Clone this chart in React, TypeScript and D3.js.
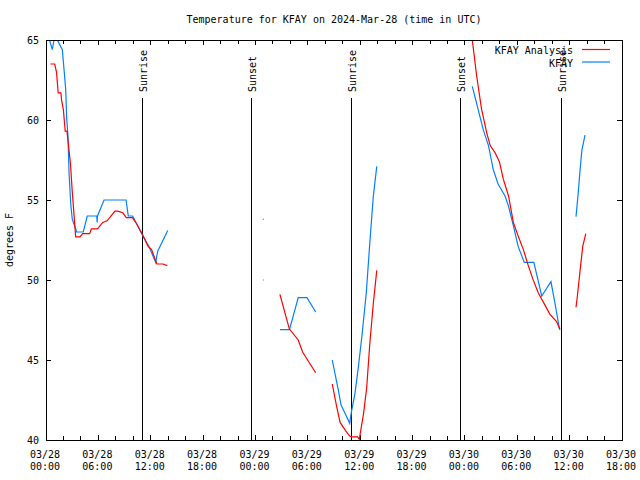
import * as d3 from "d3";
import React from "react";

// hours after 2024-03-28 00:00 UTC, temperature in degrees F
type pt = [number, number];

const analysisSegments: pt[][] = [
  [
    [0.5, 63.5], [1.0, 63.5], [1.2, 63.0], [1.4, 61.7], [1.7, 61.7], [1.8, 61.2],
    [2.0, 60.6], [2.2, 59.3], [2.4, 59.3], [2.8, 57.3], [3.0, 55.6], [3.4, 52.7],
    [3.9, 52.7], [4.2, 52.9], [5.0, 52.9], [5.2, 53.2], [5.9, 53.2], [6.5, 53.6],
    [7.0, 53.7], [7.3, 53.9], [7.9, 54.3], [8.2, 54.3], [8.8, 54.2], [9.2, 53.9],
    [9.9, 53.9], [10.4, 53.5], [11.1, 52.8], [11.7, 52.1], [12.1, 51.9], [12.7, 51.0],
    [13.4, 51.0], [13.9, 50.9],
  ],
  [[24.9, 53.8]],
  [[26.8, 49.1], [27.88, 46.95], [28.9, 46.25], [29.4, 45.5], [30.9, 44.2]],
  [
    [32.8, 43.5], [33.3, 42.1], [33.7, 41.1], [34.3, 40.6], [34.8, 40.25], [35.0, 40.2],
    [35.7, 40.2], [35.9, 40.05], [36.4, 41.7], [36.75, 43.3], [37.1, 46.0], [37.5, 48.5],
    [37.9, 50.6],
  ],
  [
    [48.8, 65.2], [49.35, 62.75], [49.9, 60.7], [50.5, 59.2], [50.9, 58.4], [51.45, 57.96],
    [51.95, 57.4], [52.4, 56.3], [53.0, 55.25], [53.55, 53.6], [54.1, 52.75], [54.7, 51.9],
    [55.26, 50.9], [55.8, 50.04], [56.4, 49.2], [57.0, 48.6], [57.75, 47.85], [58.5, 47.4],
    [58.9, 46.9],
  ],
  [[60.73, 48.3], [60.9, 49.06], [61.2, 50.6], [61.5, 52.1], [61.85, 52.9]],
];

const observedSegments: pt[][] = [
  [
    [0.4, 65.0], [0.72, 64.4], [0.92, 65.0], [1.3, 65.0], [1.87, 64.4], [2.06, 63.2],
    [2.26, 61.9], [2.37, 60.1], [2.52, 59.0], [2.64, 56.7], [2.83, 54.8], [3.01, 53.8],
    [3.4, 53.2], [3.5, 53.0], [4.27, 53.0], [4.73, 54.0], [5.81, 54.0], [5.86, 53.6],
    [5.9, 54.0], [6.65, 55.0], [9.17, 55.0], [9.43, 54.0], [9.93, 54.0], [11.15, 52.7],
    [11.8, 52.1], [12.57, 51.1], [12.8, 51.8], [13.95, 53.1],
  ],
  [[24.9, 50.0]],
  [[26.8, 46.9], [27.9, 46.9], [28.9, 48.9], [29.9, 48.9], [30.9, 48.0]],
  [
    [32.8, 45.0], [33.5, 43.1], [33.8, 42.2], [34.26, 41.67], [34.8, 41.04], [35.0, 41.77],
    [35.4, 42.9], [35.8, 44.6], [36.2, 46.5], [36.7, 49.2], [37.1, 52.3], [37.5, 55.2],
    [37.9, 57.1],
  ],
  [
    [48.85, 62.1], [49.5, 60.7], [50.1, 59.4], [50.7, 58.4], [51.25, 56.9], [51.8, 56.0],
    [52.6, 55.25], [53.0, 54.6], [53.55, 53.4], [54.1, 52.1], [54.8, 51.1], [55.9, 51.1],
    [56.8, 49.0], [57.86, 49.9], [58.3, 48.6], [58.85, 46.9],
  ],
  [[60.73, 53.96], [60.96, 55.3], [61.2, 56.9], [61.4, 58.1], [61.76, 59.06]],
];

const sunEvents: { label: string; hour: number }[] = [
  { label: "Sunrise", hour: 11.1 },
  { label: "Sunset", hour: 23.55 },
  { label: "Sunrise", hour: 35.05 },
  { label: "Sunset", hour: 47.5 },
  { label: "Sunrise", hour: 59.05 },
];

const yTicks = [40, 45, 50, 55, 60, 65];
const legendItems = [
  { name: "KFAY Analysis", color: "#ff0000" },
  { name: "KFAY", color: "#0080ff" },
];

const base = Date.UTC(2024, 2, 28, 0, 0);
const toDate = (h: number) => new Date(base + h * 3600e3);

const W = 640, H = 480;
const left = 46, right = 622, top = 40, bottom = 440;
const font = "'DejaVu Sans Mono', monospace";

export default function App() {
  const x = d3.scaleUtc().domain([toDate(0), toDate(66)]).range([left, right]);
  const y = d3.scaleLinear().domain([40, 65]).range([bottom, top]);

  const majorX = d3.utcHour.every(6)!.range(toDate(0), toDate(66.01));
  const minorX = d3.utcHour.every(2)!.range(toDate(0), toDate(66.01));
  const fmtDay = d3.utcFormat("%m/%d");
  const fmtTime = d3.utcFormat("%H:%M");

  const line = d3.line<pt>()
    .x((d) => x(toDate(d[0])))
    .y((d) => y(d[1]));

  const drawSeries = (segs: pt[][], color: string) =>
    segs.map((seg, i) =>
      seg.length > 1 ? (
        <path key={i} d={line(seg) || ""} fill="none" stroke={color} strokeWidth={1.2} />
      ) : (
        <rect key={i} x={x(toDate(seg[0][0])) - 0.5} y={y(seg[0][1]) - 0.5} width={1} height={1} fill={color} />
      )
    );

  return (
    <svg width={W} height={H} style={{ position: "absolute", left: 0, top: 0, background: "#fff" }}
      fontFamily={font} fontSize={10}>
      <defs>
        <clipPath id="plot">
          <rect x={left} y={top} width={right - left} height={bottom - top} />
        </clipPath>
      </defs>
      <text x={(left + right) / 2} y={23} textAnchor="middle">
        Temperature for KFAY on 2024-Mar-28 (time in UTC)
      </text>
      <text transform={`translate(13,${(top + bottom) / 2}) rotate(-90)`} textAnchor="middle">degrees F</text>

      {/* ticks */}
      <g stroke="#000" shapeRendering="crispEdges">
        {minorX.map((t, i) => (
          <g key={"mx" + i}>
            <line x1={x(t)} x2={x(t)} y1={bottom} y2={bottom - 4} />
            <line x1={x(t)} x2={x(t)} y1={top} y2={top + 4} />
          </g>
        ))}
        {majorX.map((t, i) => (
          <g key={"Mx" + i}>
            <line x1={x(t)} x2={x(t)} y1={bottom} y2={bottom - 5} />
            <line x1={x(t)} x2={x(t)} y1={top} y2={top + 5} />
          </g>
        ))}
        {yTicks.map((v) => (
          <g key={"y" + v}>
            <line x1={left} x2={left + 5} y1={y(v)} y2={y(v)} />
            <line x1={right} x2={right - 5} y1={y(v)} y2={y(v)} />
          </g>
        ))}
      </g>
      {majorX.map((t, i) => (
        <g key={"xl" + i}>
          <text x={x(t) - 1} y={458} textAnchor="middle">{fmtDay(t)}</text>
          <text x={x(t) - 1} y={470} textAnchor="middle">{fmtTime(t)}</text>
        </g>
      ))}
      {yTicks.map((v) => (
        <text key={"yl" + v} x={39} y={y(v) + 4} textAnchor="end">{v}</text>
      ))}

      {/* sunrise / sunset */}
      {sunEvents.map((e, i) => (
        <g key={"s" + i}>
          <line x1={x(toDate(e.hour))} x2={x(toDate(e.hour))} y1={98} y2={bottom}
            stroke="#000" shapeRendering="crispEdges" />
          <text transform={`translate(${x(toDate(e.hour)) + 4.5},92) rotate(-90)`}>{e.label}</text>
        </g>
      ))}

      <g clipPath="url(#plot)">
        {drawSeries(observedSegments, legendItems[1].color)}
        {drawSeries(analysisSegments, legendItems[0].color)}
      </g>

      {/* legend */}
      {legendItems.map((it, i) => (
        <g key={it.name}>
          <text x={573} y={54 + i * 12.5} textAnchor="end">{it.name}</text>
          <line x1={582} x2={610} y1={49.5 + i * 12.5} y2={49.5 + i * 12.5} stroke={it.color} strokeWidth={1.2} />
        </g>
      ))}

      <rect x={left} y={top} width={right - left} height={bottom - top} fill="none" stroke="#000"
        shapeRendering="crispEdges" />
    </svg>
  );
}
